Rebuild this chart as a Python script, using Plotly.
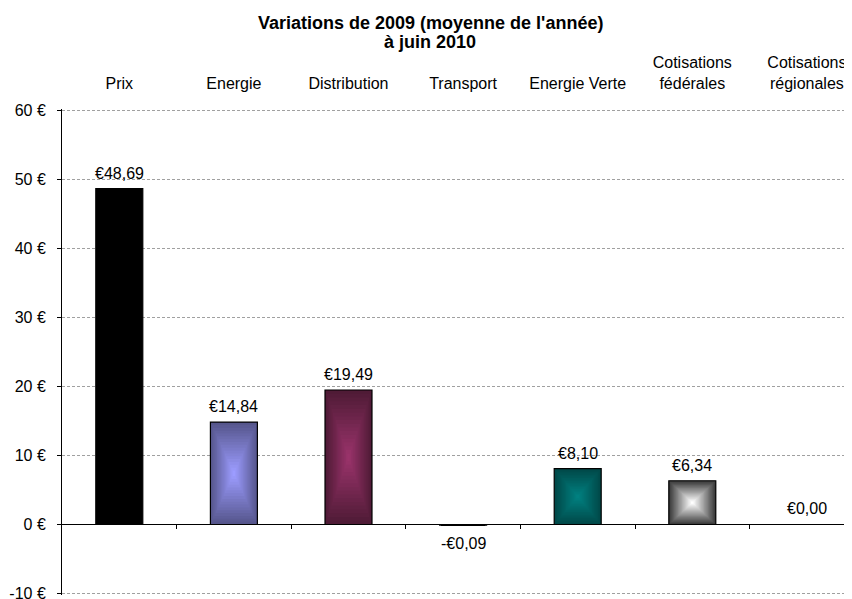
import plotly.graph_objects as go

# ---- data ----
categories = ["Prix", "Energie", "Distribution", "Transport", "Energie Verte",
              "Cotisations fédérales", "Cotisations régionales"]
category_labels = ["Prix", "Energie", "Distribution", "Transport", "Energie Verte",
                   "Cotisations<br>fédérales", "Cotisations<br>régionales"]
values = [48.69, 14.84, 19.49, -0.09, 8.10, 6.34, 0.00]
y_tick_values = [-10, 0, 10, 20, 30, 40, 50, 60]
y_tick_labels = ["-10 €", "0 €", "10 €", "20 €", "30 €", "40 €", "50 €", "60 €"]
title_lines = ["Variations de 2009 (moyenne de l'année)", "à juin 2010"]

# gradient colours: edge -> centre
edge_colors = ["#000000", "#56568c", "#4f1b36", "#000000", "#004848", "#3a3a3a", "#000000"]
center_colors = ["#000000", "#9c9cff", "#99336a", "#000000", "#008080", "#ffffff", "#000000"]

Y_MIN, Y_MAX = -10, 60
Y_PAD = 0.22
BAR_W = 0.41
N_LAYERS = 18
FONT = "Liberation Sans, Arial, sans-serif"

# figure geometry (page has an 8px body margin)
FIG_W, FIG_H = 844, 591
M_L, M_R, M_T, M_B = 54, 0, 101, 4
PLOT_W = FIG_W - M_L - M_R
PLOT_H = FIG_H - M_T - M_B
CAT_PX = 114.6


def hex2rgb(h):
    h = h.lstrip("#")
    return [int(h[i:i + 2], 16) for i in (0, 2, 4)]


def mix(c1, c2, t):
    a, b = hex2rgb(c1), hex2rgb(c2)
    return "rgb({},{},{})".format(*[round(a[i] + (b[i] - a[i]) * t) for i in range(3)])


def fmt(v):
    s = "€{:.2f}".format(abs(v)).replace(".", ",")
    return "-" + s if v < 0 else s


xpos = list(range(len(categories)))
fig = go.Figure()

# concentric gradient layers
for k in range(N_LAYERS):
    f = k / N_LAYERS
    t = k / (N_LAYERS - 1)
    fig.add_trace(go.Bar(
        x=xpos,
        y=[v * (1 - f) for v in values],
        base=[v * f / 2 for v in values],
        width=[BAR_W * (1 - f)] * len(values),
        marker=dict(color=[mix(e, c, t) for e, c in zip(edge_colors, center_colors)],
                    line=dict(width=[(1.2 if v != 0 else 0) if k == 0 else 0 for v in values],
                              color="#000000")),
        hoverinfo="skip",
        showlegend=False,
    ))

# value labels
for x, v in zip(xpos, values):
    fig.add_annotation(
        x=x, y=v, text=fmt(v), showarrow=False,
        yanchor="top" if v < 0 else "bottom",
        yshift=-8 if v < 0 else 5,
        font=dict(family=FONT, size=16, color="#000000"),
    )

# title (two lines, tight spacing)
title_x = (422 - M_L) / PLOT_W
for line, y_px in zip(title_lines, [15, 34]):
    fig.add_annotation(
        xref="paper", yref="paper", x=title_x, y=1 + (M_T - y_px) / PLOT_H,
        text="<b>" + line + "</b>", showarrow=False, xanchor="center", yanchor="middle",
        font=dict(family=FONT, size=18, color="#000000"),
    )

YR = [Y_MIN - Y_PAD, Y_MAX + Y_PAD]

# zero line with category-boundary ticks on a second x axis
zero_pos = (0 - YR[0]) / (YR[1] - YR[0])
fig.add_trace(go.Scatter(x=[-0.5], y=[0], xaxis="x2", mode="markers",
                         marker=dict(opacity=0), hoverinfo="skip", showlegend=False))

XR = [-0.5, -0.5 + PLOT_W / CAT_PX]
fig.update_layout(
    width=FIG_W, height=FIG_H,
    margin=dict(l=M_L, r=M_R, t=M_T, b=M_B),
    paper_bgcolor="white", plot_bgcolor="white",
    barmode="overlay",
    font=dict(family=FONT, size=16, color="#000000"),
    xaxis=dict(range=XR, side="top", tickmode="array", tickvals=xpos,
               ticktext=category_labels, showgrid=False, zeroline=False,
               showline=False, ticks="outside", ticklen=13, tickcolor="rgba(0,0,0,0)",
               tickfont=dict(family=FONT, size=16), automargin=False,
               ticklabeloverflow="allow"),
    xaxis2=dict(range=XR, overlaying="x", anchor="free", position=zero_pos,
                side="bottom", showline=True, linecolor="#000000", linewidth=1,
                tickmode="array", tickvals=[i + 0.5 for i in xpos[:-1]],
                ticks="outside", ticklen=4, tickcolor="#000000",
                showticklabels=False, showgrid=False, zeroline=False, automargin=False),
    yaxis=dict(range=YR, tickmode="array", tickvals=y_tick_values,
               ticktext=y_tick_labels, showline=True, linecolor="#000000", linewidth=1,
               ticks="outside", ticklen=4, tickcolor="#000000", ticklabelstandoff=8,
               ticklabeloverflow="allow",
               showgrid=True, gridcolor="#a0a0a0", griddash="3px,2px", gridwidth=1,
               zeroline=False, tickfont=dict(family=FONT, size=16), automargin=False),
)

fig.write_html("out.html")
